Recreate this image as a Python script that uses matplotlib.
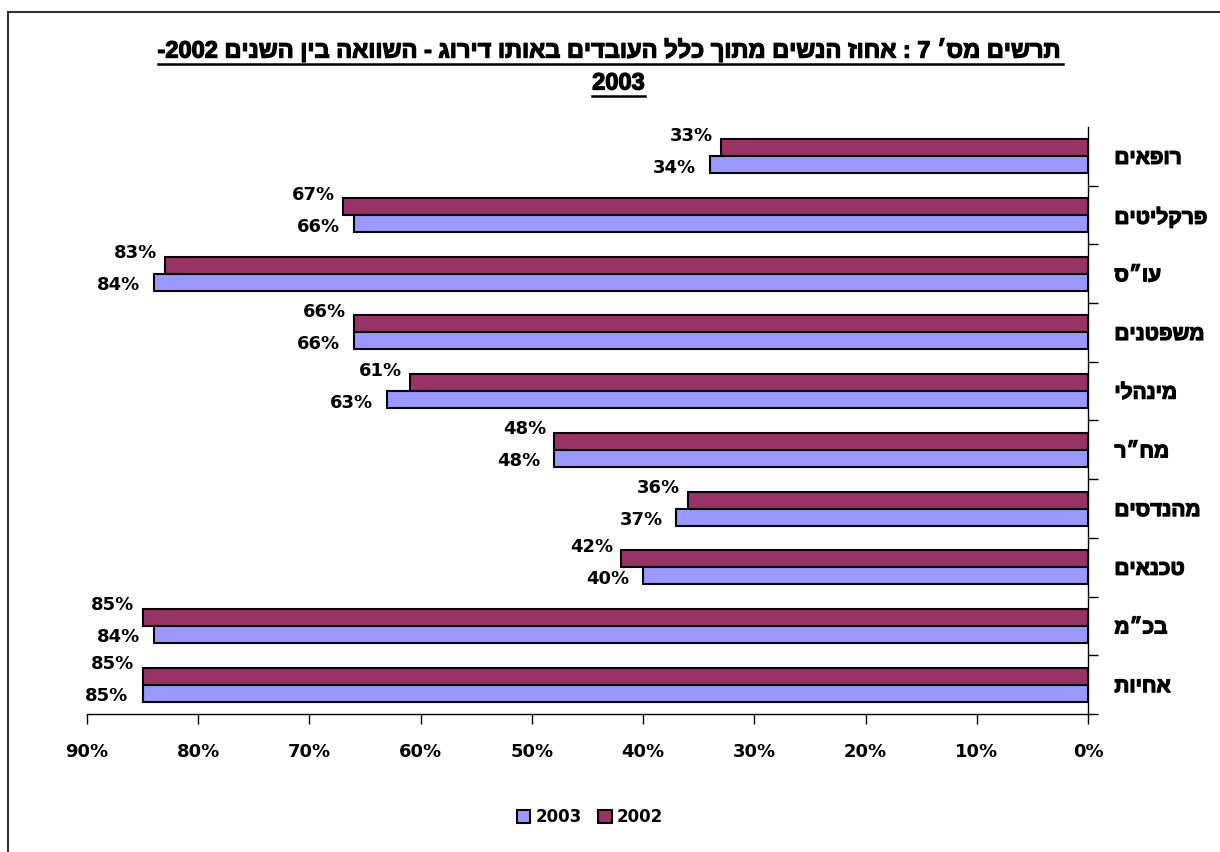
import re
import matplotlib
matplotlib.use("Agg")
import matplotlib.pyplot as plt
import matplotlib.patheffects as pe
from matplotlib.lines import Line2D
from matplotlib.patches import Patch
import numpy as np


def vis(s):
    # matplotlib draws left to right, so flip the hebrew and keep numbers as they are
    return re.sub(r'\d+', lambda m: m.group()[::-1], s[::-1])


categories = ["רופאים", "פרקליטים", "עו״ס", "משפטנים", "מינהלי",
              "מח״ר", "מהנדסים", "טכנאים", "בכ״מ", "אחיות"]
v2002 = [33, 67, 83, 66, 61, 48, 36, 42, 85, 85]
v2003 = [34, 66, 84, 66, 63, 48, 37, 40, 84, 85]
xticks = [0, 10, 20, 30, 40, 50, 60, 70, 80, 90]
title1 = "תרשים מס׳ 7 : אחוז הנשים מתוך כלל העובדים באותו דירוג - השוואה בין השנים 2002-"
title2 = "2003"

c2002 = "#993366"
c2003 = "#9999FF"
heb = ["Liberation Sans", "DejaVu Sans"]
thick = [pe.withStroke(linewidth=0.9, foreground="black")]

fig = plt.figure(figsize=(12.2, 8.52), dpi=100)
ax = fig.add_axes([87 / 1220, 1 - 714 / 852, (1088 - 87) / 1220, (714 - 127) / 852])

y = np.arange(len(categories))
h = 0.29
ax.barh(y - h / 2, v2002, height=h, color=c2002, edgecolor="black", linewidth=1.5, label="2002")
ax.barh(y + h / 2, v2003, height=h, color=c2003, edgecolor="black", linewidth=1.5, label="2003")

for i in range(len(categories)):
    ax.annotate(f"{v2002[i]}%", (v2002[i], y[i] - h / 2), xytext=(-8, 12),
                textcoords="offset pixels", ha="right", va="center",
                fontsize=13, fontweight="bold", family="DejaVu Sans")
    ax.annotate(f"{v2003[i]}%", (v2003[i], y[i] + h / 2), xytext=(-14, -3),
                textcoords="offset pixels", ha="right", va="center",
                fontsize=13, fontweight="bold", family="DejaVu Sans")

ax.set_xlim(90, 0)
ax.set_ylim(len(categories) - 0.5, -0.5)

ax.set_xticks(xticks)
ax.set_xticklabels([f"{t}%" for t in xticks], fontsize=13, fontweight="bold", family="DejaVu Sans")
ax.tick_params(axis="x", direction="out", length=7, width=1, pad=14)

ax.yaxis.tick_right()
ax.set_yticks(y)
ax.set_yticklabels([vis(c) for c in categories], fontsize=15, fontweight="bold", family=heb)
for lab in ax.get_yticklabels():
    lab.set_path_effects(thick)
ax.set_yticks(np.arange(0.5, len(categories), 1), minor=True)
ax.tick_params(axis="y", which="major", length=0, pad=19)
ax.tick_params(axis="y", which="minor", direction="out", length=7, width=1, right=True, left=False)

for s in ["left", "top"]:
    ax.spines[s].set_visible(False)
ax.spines["right"].set_linewidth(1)
ax.spines["bottom"].set_linewidth(1)

# legend
handles = [Patch(facecolor=c2003, edgecolor="black", linewidth=1.5, label="2003"),
           Patch(facecolor=c2002, edgecolor="black", linewidth=1.5, label="2002")]
fig.legend(handles=handles, loc="center", bbox_to_anchor=(590 / 1220, 1 - 817 / 852), ncol=2,
           frameon=False, handlelength=0.8, handleheight=0.8, handletextpad=0.3,
           columnspacing=1.0, prop={"weight": "bold", "size": 12, "family": "DejaVu Sans"})

# title, two lines, underlined
t1 = fig.text(0.5, 1 - 50 / 852, vis(title1), ha="center", va="center",
              fontsize=17, fontweight="bold", family=heb, path_effects=thick)
t2 = fig.text(0.507, 1 - 83 / 852, title2, ha="center", va="center",
              fontsize=17, fontweight="bold", family=heb, path_effects=thick)

# outer frame
fig.add_artist(Line2D([8 / 1220, 8 / 1220], [0, 1 - 12 / 852], transform=fig.transFigure,
                      color="#333333", linewidth=1.5))
fig.add_artist(Line2D([8 / 1220, 1], [1 - 12 / 852, 1 - 12 / 852], transform=fig.transFigure,
                      color="#333333", linewidth=1.5))

fig.canvas.draw()
inv = fig.transFigure.inverted()
for t in (t1, t2):
    bb = t.get_window_extent()
    (x0, y0), (x1, _) = inv.transform([[bb.x0, bb.y0], [bb.x1, bb.y1]])
    fig.add_artist(Line2D([x0, x1], [y0 - 1 / 852, y0 - 1 / 852], transform=fig.transFigure,
                          color="black", linewidth=1.8))

fig.savefig("out.png", dpi=100)
